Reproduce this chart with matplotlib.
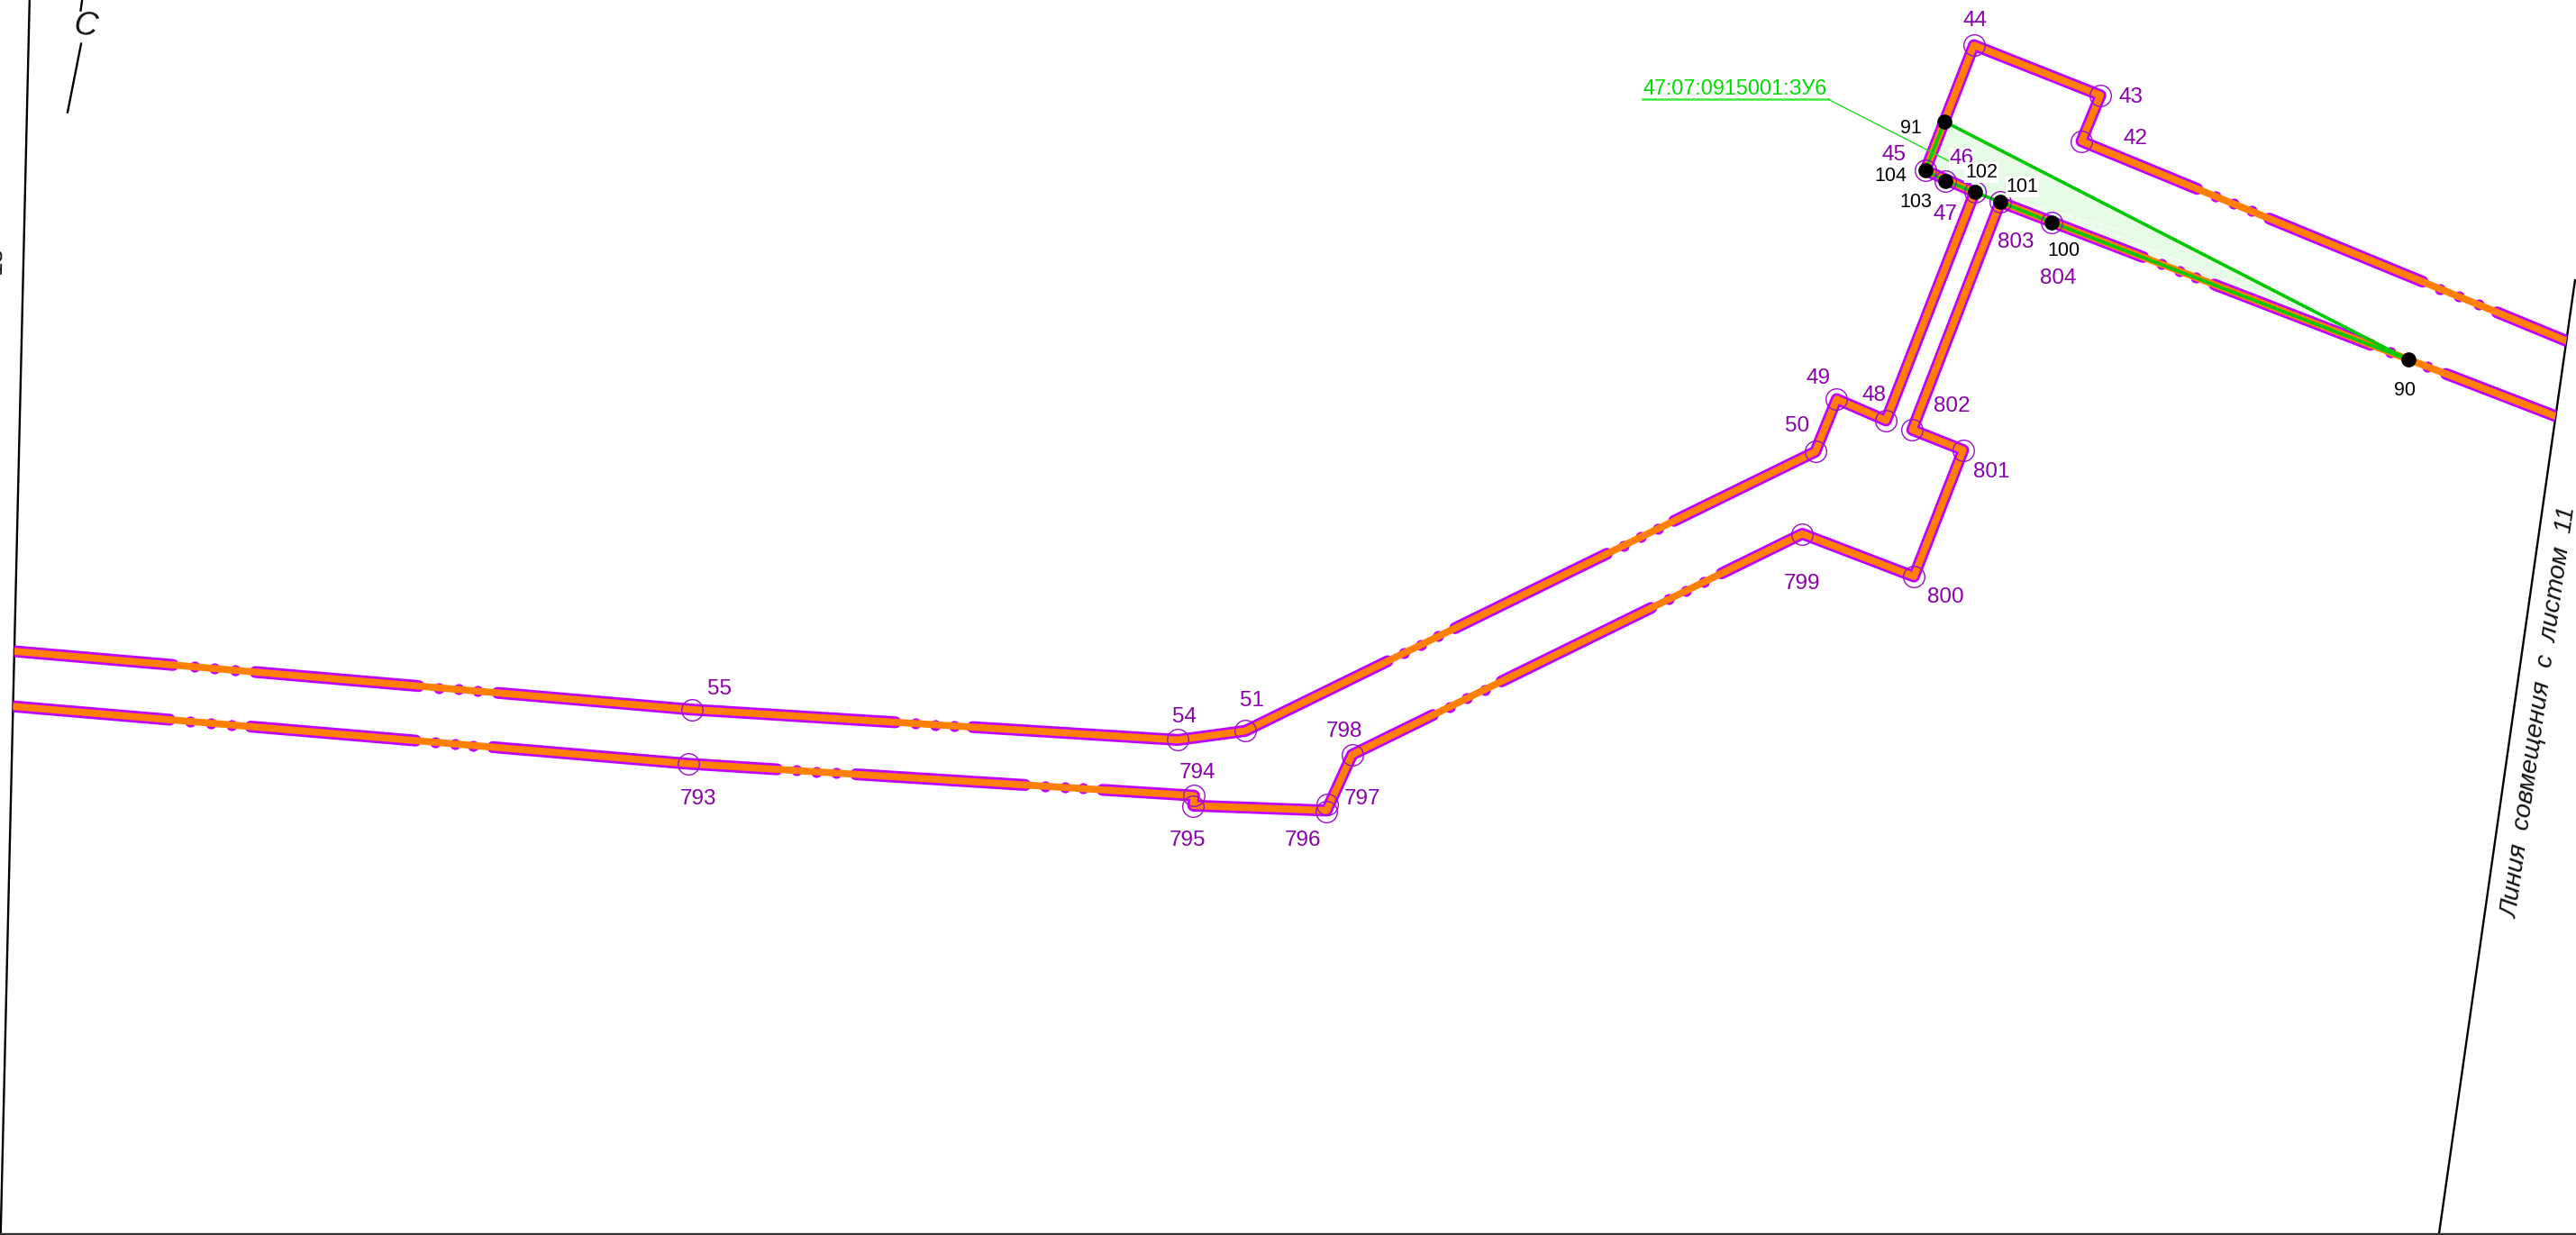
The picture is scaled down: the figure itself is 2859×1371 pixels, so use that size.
import numpy as np
import matplotlib
matplotlib.use("Agg")
import matplotlib.pyplot as plt
from matplotlib.patches import Polygon

W, H = 2859, 1371
SX = 1568.0
SY = SX * H / W

# ---- upper boundary of the corridor, vertices 42..55
upper_centre = [(1572, 211.6), (1267, 86), (1278.5, 58), (1201.5, 27.5), (1172, 103.7), (1202, 117),
                (1148, 256), (1118, 243), (1105, 275), (758, 445), (717, 450.5), (421, 432), (0, 395.8)]
upper_gaps = [((1520, 190), (1474.5, 171.5)), ((1381, 134), (1337, 116)), ((1019, 317), (978, 337)),
              ((886, 383), (845, 403.5)), ((592, 443), (545, 440)), ((303, 421), (255, 416)),
              ((155.4, 409.6), (105.3, 404.8))]
upper_dots = [(1485, 176), (1497, 180.5), (1508.6, 185.3), (1348, 120.5), (1359, 125), (1370, 129.5),
              (988, 332), (998.5, 327), (1009, 322), (855, 398.5), (865.5, 393.5), (876, 388.5),
              (557, 441), (569, 441.7), (581, 442.5), (267, 417.5), (279, 418.5), (291, 419.5),
              (118.7, 406.3), (130.8, 407), (142.9, 408)]

# ---- lower boundary, vertices 803..793
lower_centre = [(1566, 257.4), (1217.6, 123), (1164, 261.7), (1195, 274), (1165, 351), (1097, 325),
                (823, 459.5), (807.5, 493.5), (726.4, 490.5), (726.8, 484.4), (419, 465), (0, 429.4)]
lower_gaps = [((1489, 227.6), (1443, 209.8)), ((1348, 173), (1305, 155)), ((1048, 349), (1005, 370)),
              ((914, 415), (873, 437)), ((671, 481), (624, 478)), ((521, 471), (473, 468)),
              ((300, 455), (253, 451)), ((152.6, 442.5), (103.3, 438))]
lower_dots = [(1455, 214.3), (1466, 219), (1477.6, 223), (1316, 159.5), (1327, 164), (1337, 168.5),
              (1016, 365), (1026.5, 360), (1037, 354.5), (883, 431.5), (893.5, 426), (904, 420.5),
              (636, 479), (648, 479.7), (659, 480.4), (485, 469), (497, 469.7), (509, 470.5),
              (265, 452), (277, 453), (288, 454), (115.8, 439.4), (128.3, 440.4), (140.9, 441.5)]

# ---- parcel ЗУ6
parcel = [(1183.6, 74), (1172, 103.7), (1184, 110), (1202, 117), (1217.6, 123), (1249, 135.4), (1466, 219)]
parcel_hatch = [[(1208, 117), (1295, 141)], [(1225, 121), (1330, 160)], [(1255, 130), (1380, 180)]]
black_pts = [(1466, 219), (1183.6, 74), (1249, 135.4), (1217.6, 123), (1202, 117), (1184, 110), (1172, 103.7)]

circles = [(1201.5, 27.5), (1278.5, 58), (1267, 86), (1172, 103.7), (1184, 110), (1202, 117), (1217.6, 123),
           (1249, 135.4), (1148, 256), (1118, 243), (1105, 275), (1164, 261.7), (1195, 274), (1165, 351),
           (1097, 325), (758, 445), (717, 450.5), (421, 432), (419, 465), (726.8, 484.4), (726.4, 491),
           (807.5, 494), (808, 490), (823, 459.5)]

purple_labels = {
    "44": (1202, 12.5), "43": (1297, 59.5), "42": (1300, 84.5), "45": (1153, 94.5), "46": (1194, 96.5),
    "47": (1184, 130.5), "803": (1227, 147.5), "804": (1253, 169.5), "49": (1107, 230.5), "48": (1141, 240.5),
    "802": (1188, 247.5), "50": (1094, 259.5), "801": (1212, 287.5), "800": (1184, 363.5), "799": (1097, 355.5),
    "55": (438, 419.5), "54": (721, 436.5), "51": (762, 426.5), "794": (729, 470.5), "798": (818, 445.5),
    "797": (829, 486.5), "795": (723, 511.5), "796": (793, 511.5), "793": (425, 486.5),
}
black_labels = {
    "91": (1163, 78), "104": (1151, 107), "102": (1206, 105), "101": (1231, 114), "103": (1166, 123),
    "100": (1256, 153), "90": (1464, 238),
}
frame_left = [(18, 0), (0.4, 752)]
frame_bottom = [(0, 751.5), (1568, 751.5)]
match_line = [(1567.5, 170), (1484.5, 752)]
match_line_top = (1591.7, 0)
section_top = [(50, 0), (49, 7)]
section_low = [(49.5, 26), (41, 69)]
leader_underline = [(1000, 60.5), (1113, 60.5)]
leader = [(1113, 60.5), (1192, 101)]

FONT = ["Liberation Sans Narrow", "Liberation Sans", "DejaVu Sans"]
PURPLE = "#bf00ff"
ORANGE = "#ff8000"
GREEN = "#00c800"
LABEL = "#8a00ad"


def locate(path, p):
    """Arc-length position of point p projected on the polyline."""
    pts = np.asarray(path, float)
    p = np.asarray(p, float)
    best, best_s, s0 = None, 0.0, 0.0
    for a, b in zip(pts[:-1], pts[1:]):
        d = b - a
        L = np.hypot(*d)
        t = np.clip(np.dot(p - a, d) / (L * L), 0, 1)
        q = a + t * d
        e = np.hypot(*(p - q))
        if best is None or e < best:
            best, best_s = e, s0 + t * L
        s0 += L
    return best_s


def cut(path, gaps):
    """Split the polyline into the runs that lie outside the given gaps."""
    pts = np.asarray(path, float)
    seg = np.hypot(*np.diff(pts, axis=0).T)
    cum = np.concatenate([[0], np.cumsum(seg)])
    spans = sorted((min(locate(path, a), locate(path, b)), max(locate(path, a), locate(path, b))) for a, b in gaps)
    edges = [0.0] + [v for s in spans for v in s] + [cum[-1]]
    runs = []
    for s, e in zip(edges[0::2], edges[1::2]):
        inner = cum[(cum > s) & (cum < e)]
        ss = np.concatenate([[s], inner, [e]])
        runs.append(np.column_stack([np.interp(ss, cum, pts[:, 0]), np.interp(ss, cum, pts[:, 1])]))
    return runs


def snap(path, p):
    pts = np.asarray(path, float)
    seg = np.hypot(*np.diff(pts, axis=0).T)
    cum = np.concatenate([[0], np.cumsum(seg)])
    s = locate(path, p)
    return np.interp(s, cum, pts[:, 0]), np.interp(s, cum, pts[:, 1])


fig = plt.figure(figsize=(W / 100, H / 100), dpi=100, facecolor="white")
ax = fig.add_axes([0, 0, 1, 1])
ax.set_xlim(0, SX)
ax.set_ylim(SY, 0)
ax.axis("off")

# the corridor stops at the sheet frame on the left and the match line on the right
clip = Polygon([frame_left[0], match_line_top, match_line[1], frame_left[1]], closed=True,
               transform=ax.transData, fc="none", ec="none")
ax.add_patch(clip)


def line(pts, **kw):
    pts = np.asarray(pts, float)
    return ax.plot(pts[:, 0], pts[:, 1], **kw)[0]


ax.add_patch(Polygon(parcel, closed=True, fc="#e6fae6", ec="none", zorder=1))
for seg in parcel_hatch:
    line(seg, color="white", lw=0.7, ls=(0, (6, 3)), zorder=1.2)

for centre, gaps, dots in ((upper_centre, upper_gaps, upper_dots), (lower_centre, lower_gaps, lower_dots)):
    for run in cut(centre, gaps):
        line(run, color=PURPLE, lw=9.5, solid_capstyle="round", solid_joinstyle="round", zorder=2).set_clip_path(clip)
    d = np.array([snap(centre, p) for p in dots])
    ax.plot(d[:, 0], d[:, 1], ls="none", marker="o", ms=8.8, mfc=PURPLE, mec="none", zorder=2)
    line(centre, color=ORANGE, lw=5.6, solid_capstyle="butt", solid_joinstyle="round", zorder=3).set_clip_path(clip)

line(parcel + [parcel[0]], color=GREEN, lw=2.6, solid_joinstyle="round", zorder=4)

c = np.array(circles)
ax.plot(c[:, 0], c[:, 1], ls="none", marker="o", ms=17, mfc="none", mec="#9a10c8", mew=1.0, zorder=5)
b = np.array(black_pts)
ax.plot(b[:, 0], b[:, 1], ls="none", marker="o", ms=12, mfc="black", mec="none", zorder=6)

line(leader_underline, color="#3fe83f", lw=1.8, zorder=4)
line(leader, color="#20d820", lw=1.0, zorder=4)
ax.text(1000, 54, "47:07:0915001:ЗУ6", color="#00dc00", family=FONT, fontsize=16.8, ha="left", va="center", zorder=7)

for t, (x, y) in purple_labels.items():
    bb = dict(fc="white", ec="none", pad=0.6) if t == "46" else None
    ax.text(x, y, t, color=LABEL, family=FONT, fontsize=17.5, ha="center", va="center", zorder=7, bbox=bb)
for t, (x, y) in black_labels.items():
    bb = dict(fc="white", ec="none", pad=0.6) if t in ("102", "101") else None
    ax.text(x, y, t, color="black", family=FONT, fontsize=15.5, ha="center", va="center", zorder=7, bbox=bb)

for seg in (frame_left, match_line, section_top, section_low):
    line(seg, color="black", lw=1.7, zorder=1, solid_capstyle="butt")
line(frame_bottom, color="#333333", lw=1.7, zorder=1)

ax.text(1546, 434, "Линия  совмещения  с  листом  11", rotation=81.9, rotation_mode="anchor", family=FONT,
        style="italic", fontsize=20.5, color="#111111", ha="center", va="center")
ax.text(52, 16, "С", rotation=-8, rotation_mode="anchor", family=FONT, style="italic", fontsize=26, color="#111111",
        ha="center", va="center")
ax.text(-3, 158, "13", rotation=89, rotation_mode="anchor", family=FONT, fontsize=20, color="#111111", ha="center",
        va="center", clip_on=True)

fig.savefig("out.png", dpi=100, facecolor="white")
